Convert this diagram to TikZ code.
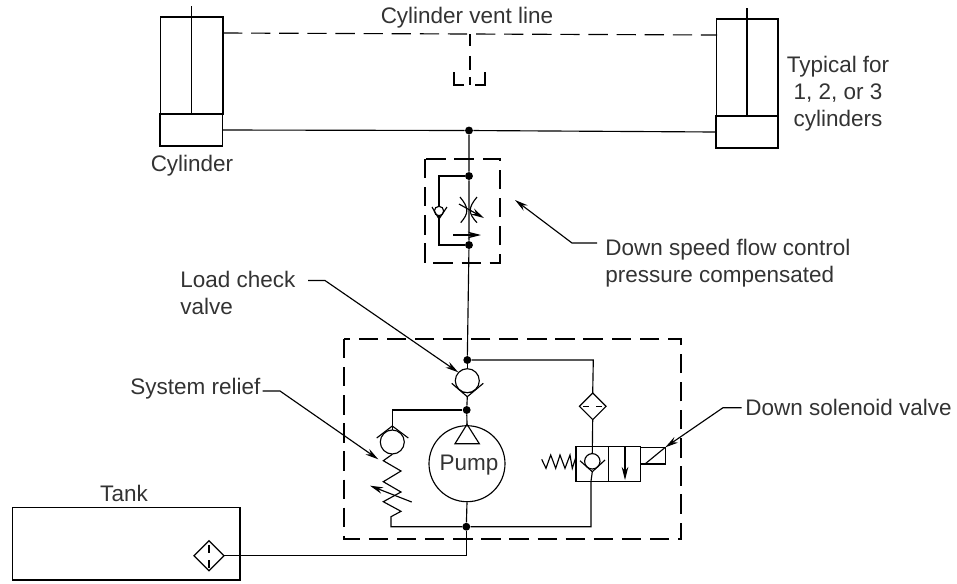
\documentclass[tikz,border=0pt]{standalone}
\usepackage{fontspec}
\setmainfont{Liberation Sans}
\usetikzlibrary{arrows.meta}
\tikzset{
	line/.style={line width=0.65pt},
	vent/.style={line width=0.65pt, dash pattern=on 11pt off 5pt},
	dot/.style={circle, fill=black, inner sep=0pt, minimum size=4.5pt},
	label/.style={inner sep=0pt, font=\fontsize{12.8pt}{15.3pt}\selectfont, text=black!80},
	leader/.style={line width=0.65pt, -{Stealth[length=7.5pt, width=3.8pt]}},
}
\begin{document}
\begin{tikzpicture}[x=0.02cm, y=-0.02cm]
	\useasboundingbox (0, 0) rectangle (957, 583);

	% cylinders
	\draw[line] (160.7, 17) rectangle (223, 114);
	\draw[line] (160, 114) rectangle (222.5, 146);
	\draw[line] (191.7, 6) -- (191.7, 114);
	\draw[line] (716.7, 19) rectangle (778, 116);
	\draw[line] (716, 116) rectangle (778, 148);
	\draw[line] (747, 8) -- (747, 116);

	% vent and main lines
	\coordinate (ventL) at (223, 33);
	\coordinate (ventR) at (717, 35);
	\coordinate (ventM) at (470, 34);
	\draw[vent] (ventL) -- (ventR);
	\draw[line, dash pattern=on 6.8pt off 5.7pt on 8pt off 4pt on 4.5pt] (ventM) -- (470, 85);
	\draw[line] (454, 72) -- (454, 85) -- (464, 85);
	\draw[line] (485, 72) -- (485, 85) -- (475, 85);
	\node[dot] (topJ) at (469, 130.5) {};
	\draw[line] (222.5, 130) -- (topJ) -- (716, 132);

	% flow control
	\draw[vent] (425, 159) rectangle (500, 263);
	\node[dot] (fcA) at (469, 176) {};
	\node[dot] (fcB) at (469, 245) {};
	\node[dot] (chkJ) at (467.3, 360) {};
	\draw[line] (topJ) -- (fcA) -- (fcB) -- (chkJ);
	\draw[line] (fcA) -- (439, 176) -- (439, 245) -- (fcB);
	\draw[line, fill=white] (439, 211) circle (4.7);
	\draw[line] (432, 207) -- (439, 219) -- (447, 207);
	\draw[line] (460, 197) .. controls (469, 208) and (469, 213) .. (460.7, 222.7);
	\draw[line] (477, 197) .. controls (468, 208) and (468, 213) .. (477, 222.7);
	\draw[leader] (459, 204) -- (484, 218);
	\draw[leader] (453, 235) -- (481, 235);

	% manifold
	\draw[vent] (344, 339) rectangle (681, 539);

	% load check valve
	\draw[line] (chkJ) -- (467.3, 368.7);
	\draw[line] (467.3, 380.7) circle (12);
	\draw[line] (451.7, 383.3) -- (467.3, 396.7) -- (483.3, 383.3);
	\draw[line] (461.7, 392.5) -- (472.7, 392.5);
	\node[dot] (pumpJ) at (466.7, 410) {};
	\draw[line] (467.3, 396.7) -- (pumpJ) -- (467, 424.3);

	% pump
	\node[circle, draw, line width=0.65pt, minimum size=76*0.02cm, inner sep=0pt] (pump) at (467, 463.7) {};
	\node[label] (pumpT) at (469, 465) {Pump};
	\draw[line] (467, 424.3) -- (455, 443.7) -- (479.3, 443.7) -- cycle;
	\node[dot] (botJ) at (466.3, 526.7) {};
	\draw[line] (pump.south) -- (botJ);

	% relief valve
	\draw[line] (pumpJ) -- (392.3, 410) -- (392.3, 430);
	\draw[line] (392.3, 442) circle (12);
	\draw[line] (376.7, 438) -- (392.3, 426) -- (408.3, 438);
	\draw[line] (392.3, 454.3) -- (383.3, 460.7) -- (401, 471) -- (383.3, 481.7) -- (401, 492) -- (383.3, 501.7) -- (401, 511.3) -- (391, 516.7) -- (391, 526.7) -- (botJ);
	\draw[leader] (411.7, 502) -- (370, 485.7);

	% solenoid valve
	\draw[line] (chkJ) -- (593.3, 360) -- (592.7, 393);
	\draw[line] (592.7, 393) -- (606, 406.3) -- (592.7, 419.6) -- (579.4, 406.3) -- cycle;
	\draw[line, dash pattern=on 3.4pt off 4pt] (583.3, 406.3) -- (603, 406.3);
	\draw[line] (592.7, 419.6) -- (592.3, 453.6);
	\draw[line] (576, 446.7) rectangle (640.7, 481.3);
	\draw[line] (608.3, 446.7) -- (608.3, 481.3);
	\draw[line] (592.3, 461.3) circle (7.7);
	\draw[line] (580, 460.7) -- (592.3, 471.7) -- (605, 460);
	\draw[line] (592.3, 471.7) -- (591, 481.3) -- (591, 526.7) -- (botJ);
	\draw[leader] (625, 447) -- (625, 480);
	\draw[line] (541.7, 459.3) -- (546, 468.3) -- (550.7, 455) -- (555.7, 468.3) -- (560, 455) -- (565, 468.3) -- (570, 455) -- (572.3, 468.3) -- (576, 456.7);
	\draw[line] (640.7, 447.3) rectangle (665.3, 464);
	\draw[line] (645, 464) -- (665.3, 447.3);

	% tank
	\draw[line] (12.7, 507.7) rectangle (240, 580);
	\draw[line] (209, 540.7) -- (224, 555.7) -- (209, 570.7) -- (194, 555.7) -- cycle;
	\draw[line, dash pattern=on 4.4pt off 4.2pt] (209, 545) -- (209, 570);
	\draw[line] (224, 555.7) -- (466.3, 555.7);
	\draw[line] (botJ) -- (466.3, 555.7);

	% labels
	\node[label] (ventT) at (467, 18) {Cylinder vent line};
	\node[label, align=center] (typT) at (838, 94) {Typical for\\1, 2, or 3\\cylinders};
	\node[label] (cylT) at (192, 166) {Cylinder};
	\node[label] (tankT) at (124, 493) {Tank};
	\node[label, align=left, anchor=west] (speedT) at (605, 263) {Down speed flow control\\pressure compensated};
	\node[label, align=left, anchor=west] (loadT) at (180, 293) {Load check\\valve};
	\node[label, anchor=west] (reliefT) at (130, 389) {System relief};
	\node[label, anchor=west] (solT) at (745, 407) {Down solenoid valve};

	% leaders
	\draw[leader] (597, 243) -- (572, 243) -- (515, 200);
	\draw[leader] (308, 280.5) -- (325, 280.5) -- (458.3, 372.3);
	\draw[leader] (262.7, 391) -- (280, 391) -- (378.3, 459.3);
	\draw[leader] (741.7, 407.7) -- (723, 407.7) -- (665.3, 447.3);
\end{tikzpicture}
\end{document}
